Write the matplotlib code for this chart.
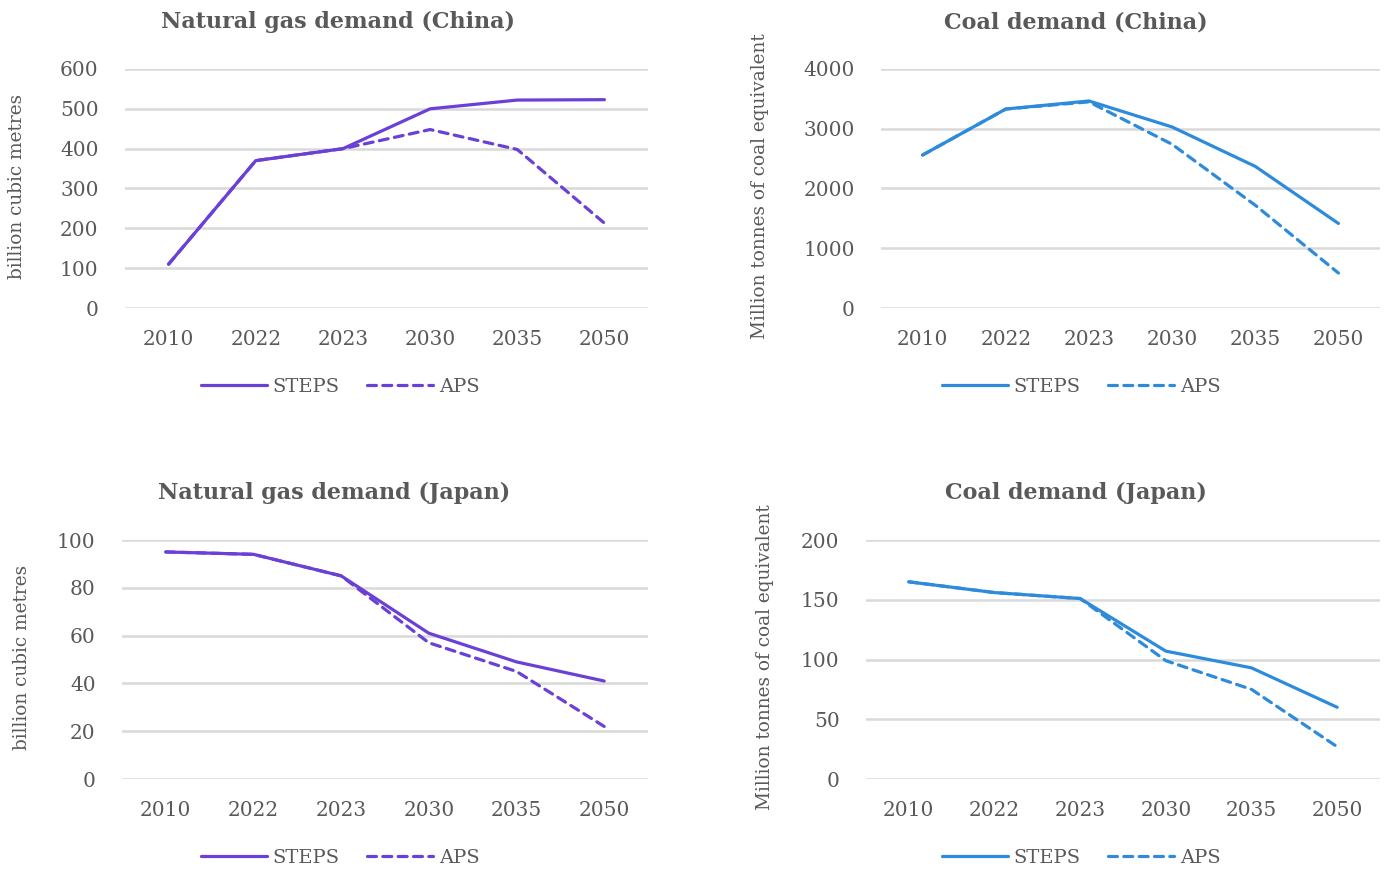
import matplotlib
matplotlib.use("Agg")
import matplotlib.pyplot as plt
from matplotlib.lines import Line2D

plt.rcParams["font.family"] = ["DejaVu Serif"]

years = ["2010", "2022", "2023", "2030", "2035", "2050"]

gas_china_steps = [110, 370, 400, 500, 522, 523]
gas_china_aps = [110, 370, 400, 448, 398, 213]

coal_china_steps = [2560, 3330, 3465, 3030, 2370, 1415]
coal_china_aps = [2560, 3330, 3450, 2740, 1720, 585]

gas_japan_steps = [95, 94, 85, 61, 49, 41]
gas_japan_aps = [95, 94, 85, 57, 45, 22]

coal_japan_steps = [165, 156, 151, 107, 93, 60]
coal_japan_aps = [165, 156, 151, 99, 75, 27]

gas_ticks = [0, 100, 200, 300, 400, 500, 600]
coal_china_ticks = [0, 1000, 2000, 3000, 4000]
gas_japan_ticks = [0, 20, 40, 60, 80, 100]
coal_japan_ticks = [0, 50, 100, 150, 200]

PURPLE = "#6A40D6"
BLUE = "#2E8BDB"
TEXT = "#595959"
GRID = "#D9D9D9"

W, H = 1394, 871
fig = plt.figure(figsize=(W / 100, H / 100), dpi=100)


def frac(x0, y0, x1, y1):
    return [x0 / W, 1 - y1 / H, (x1 - x0) / W, (y1 - y0) / H]


panels = [
    dict(rect=(125, 69, 648, 308), title="Natural gas demand (China)", title_x=338,
         steps=gas_china_steps, aps=gas_china_aps, ticks=gas_ticks, color=PURPLE,
         ylabel="billion cubic metres", ylabel_x=17, legend_x=340, legend_y=387, title_y=22),
    dict(rect=(881, 69, 1380, 308), title="Coal demand (China)", title_x=1076,
         steps=coal_china_steps, aps=coal_china_aps, ticks=coal_china_ticks, color=BLUE,
         ylabel="Million tonnes of coal equivalent", ylabel_x=760, legend_x=1081, legend_y=387, title_y=22),
    dict(rect=(122, 540, 648, 779), title="Natural gas demand (Japan)", title_x=334,
         steps=gas_japan_steps, aps=gas_japan_aps, ticks=gas_japan_ticks, color=PURPLE,
         ylabel="billion cubic metres", ylabel_x=22, legend_x=340, legend_y=858, title_y=493),
    dict(rect=(866, 540, 1380, 779), title="Coal demand (Japan)", title_x=1076,
         steps=coal_japan_steps, aps=coal_japan_aps, ticks=coal_japan_ticks, color=BLUE,
         ylabel="Million tonnes of coal equivalent", ylabel_x=765, legend_x=1081, legend_y=858, title_y=493),
]

x = list(range(len(years)))
dash = (2.8, 2.0)

for p in panels:
    ax = fig.add_axes(frac(*p["rect"]))
    ax.plot(x, p["aps"], color=p["color"], lw=2.3, dashes=dash,
            dash_capstyle="round", solid_capstyle="round")
    ax.plot(x, p["steps"], color=p["color"], lw=2.3,
            solid_capstyle="round", solid_joinstyle="round")
    ax.set_xlim(-0.5, len(years) - 0.5)
    ax.set_ylim(p["ticks"][0], p["ticks"][-1])
    ax.set_yticks(p["ticks"])
    ax.set_yticklabels([str(t) for t in p["ticks"]])
    ax.set_xticks(x)
    ax.set_xticklabels(years)
    ax.tick_params(length=0, labelsize=14.5, colors=TEXT)
    ax.tick_params(axis="y", pad=19)
    ax.tick_params(axis="x", pad=16)
    for s in ax.spines.values():
        s.set_visible(False)
    ax.grid(axis="y", color=GRID, lw=1.8)
    ax.set_axisbelow(True)

    fig.text(p["title_x"] / W, 1 - p["title_y"] / H, p["title"], ha="center", va="center",
             fontsize=16, fontweight="bold", color=TEXT)
    yc = (p["rect"][1] + p["rect"][3]) / 2 - 2
    fig.text(p["ylabel_x"] / W, 1 - yc / H, p["ylabel"], rotation=90, ha="center", va="center",
             fontsize=13.3, color=TEXT)

    handles = [Line2D([], [], color=p["color"], lw=2.3, solid_capstyle="round"),
               Line2D([], [], color=p["color"], lw=2.3, dashes=dash, dash_capstyle="round")]
    fig.legend(handles, ["STEPS", "APS"], loc="center", ncol=2, frameon=False,
               bbox_to_anchor=(p["legend_x"] / W, 1 - p["legend_y"] / H),
               fontsize=14, labelcolor=TEXT, handlelength=3.4, handletextpad=0.3,
               columnspacing=1.4)

fig.savefig("out.png", dpi=100, facecolor="white")
